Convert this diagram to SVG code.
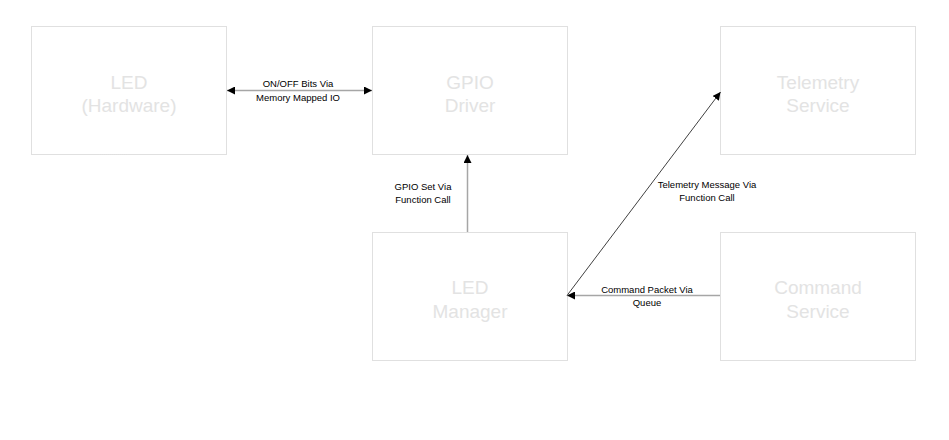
<svg xmlns="http://www.w3.org/2000/svg" width="949" height="440" viewBox="0 0 949 440">
<style>
.box{fill:#ffffff;stroke:#c0c0c0;stroke-width:1;stroke-dasharray:1 1}
.title{font-family:"Liberation Sans",Arial,sans-serif;font-size:19px;fill:#e3e3e3;text-anchor:middle}
.lbl{font-family:"Liberation Sans",Arial,sans-serif;font-size:9.5px;fill:#000000;text-anchor:middle}
.gray{stroke:#a6a6a6;stroke-width:1.5;fill:none}
.thin{stroke:#000000;stroke-width:0.75;fill:none}
</style>
<defs>
<marker id="ah" markerWidth="8" markerHeight="8" refX="8" refY="4" orient="auto" markerUnits="userSpaceOnUse" viewBox="0 0 8 8">
<path d="M0,0 L8,4 L0,8 Z" fill="#000000"/>
</marker>
<marker id="ahs" markerWidth="8" markerHeight="8" refX="0" refY="4" orient="auto" markerUnits="userSpaceOnUse" viewBox="0 0 8 8">
<path d="M8,0 L0,4 L8,8 Z" fill="#000000"/>
</marker>
</defs>
<rect width="949" height="440" fill="#ffffff"/>
<g id="led-hardware">
<rect class="box" x="31.5" y="26.5" width="195" height="128"/>
<text class="title" x="129" y="89">LED</text>
<text class="title" x="129" y="112">(Hardware)</text>
</g>
<g id="gpio-driver">
<rect class="box" x="372.5" y="26.5" width="195" height="128"/>
<text class="title" x="470" y="89">GPIO</text>
<text class="title" x="470" y="112">Driver</text>
</g>
<g id="telemetry-service">
<rect class="box" x="720.5" y="26.5" width="195" height="128"/>
<text class="title" x="818" y="89">Telemetry</text>
<text class="title" x="818" y="112">Service</text>
</g>
<g id="led-manager">
<rect class="box" x="372.5" y="232.5" width="195" height="128"/>
<text class="title" x="470" y="294">LED</text>
<text class="title" x="470" y="318">Manager</text>
</g>
<g id="command-service">
<rect class="box" x="720.5" y="232.5" width="195" height="128"/>
<text class="title" x="818" y="294">Command</text>
<text class="title" x="818" y="318">Service</text>
</g>
<g id="connectors">
<line class="gray" x1="227" y1="90.5" x2="372" y2="90.5" marker-start="url(#ahs)" marker-end="url(#ah)"/>
<text class="lbl" x="298" y="87">ON/OFF Bits Via</text>
<text class="lbl" x="298" y="101">Memory Mapped IO</text>
<line class="gray" x1="467.5" y1="232" x2="467.5" y2="155" marker-end="url(#ah)"/>
<text class="lbl" x="423" y="190">GPIO Set Via</text>
<text class="lbl" x="423" y="203">Function Call</text>
<line class="thin" x1="567" y1="295.5" x2="720.5" y2="92" marker-end="url(#ah)"/>
<text class="lbl" x="707" y="188">Telemetry Message Via</text>
<text class="lbl" x="707" y="201">Function Call</text>
<line class="gray" x1="720" y1="295.5" x2="567" y2="295.5" marker-end="url(#ah)"/>
<text class="lbl" x="647" y="293">Command Packet Via</text>
<text class="lbl" x="647" y="306">Queue</text>
</g>
</svg>
